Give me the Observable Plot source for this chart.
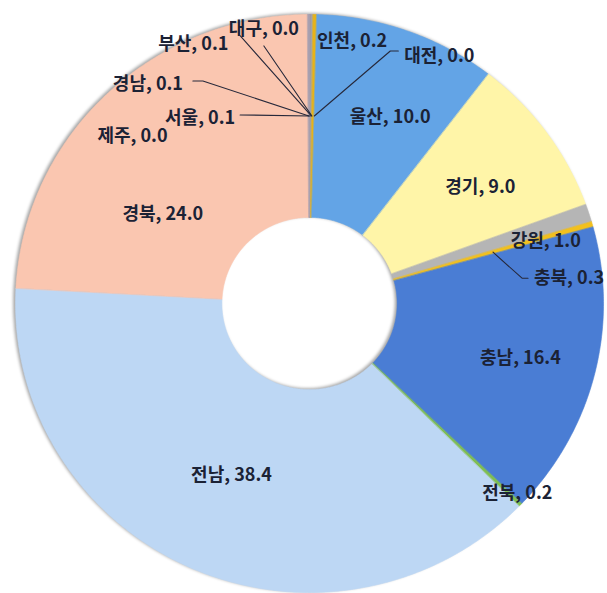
<!DOCTYPE html>
<html>
<head>
<meta charset="utf-8">
<script src="https://cdn.jsdelivr.net/npm/d3@7"></script>
<script src="https://cdn.jsdelivr.net/npm/@observablehq/plot@0.6"></script>
<style>
  html, body { margin: 0; padding: 0; background: #fff; }
</style>
</head>
<body>
<div id="chart"></div>
<script>
// Regional shares (%), clockwise from 12 o'clock
const regions = ["서울", "부산", "대구", "인천", "대전", "울산", "경기", "강원", "충북", "충남", "전북", "전남", "경북", "경남", "제주"];
const shares  = [0.1, 0.1, 0.0, 0.2, 0.0, 10.0, 9.0, 1.0, 0.3, 16.4, 0.2, 38.4, 24.0, 0.1, 0.0];
const sliceColors = ["#9b93a8", "#a5a5a5", "#c9a66b", "#e8b316", "#7a7a7a", "#63a4e6", "#fff5a8", "#b5b5b5", "#f2c01e", "#4a7dd4", "#7fbf50", "#bdd7f4", "#fac6b0", "#a8a0b0", "#f4b183"];

// Label placement: pixel nudges away from each slice's mid-ring point
const labelNudge = {
  "서울": [-110, 2],  "부산": [-118, -72], "대구": [-48, -87], "인천": [39, -75],
  "대전": [125, -60], "울산": [17, -9],    "경기": [17, -5],   "강원": [55, -4],
  "충북": [76, 26],   "충남": [26, 9],     "전북": [71, 59],   "전남": [-1, 0],
  "경북": [-15, 46],  "경남": [-161, -32], "제주": [-177, 20]
};
// Leader lines: pixel points (relative to the mid-ring point) before reaching the slice
const leaderPoints = {
  "서울": [[-70, -1]],
  "경남": [[-116, -35], [-106, -35]],
  "부산": [[-71, -80]],
  "대구": [[-48, -70]],
  "대전": [[84, -65], [76, -65]],
  "충북": [[35, 26], [29, 26]]
};

// Frame of the ring (pixels)
const W = 607, H = 593;
const xRange = [15, 603], yRange = [592, 14];
const PX = (xRange[1] - xRange[0]) / 2, PY = (yRange[0] - yRange[1]) / 2;
const innerR = 0.298;
const midR = (1 + innerR) / 2;

const total = d3.sum(shares);
const toXY = (r, a) => [r * Math.sin(a), r * Math.cos(a)];

// Ring polygons per slice
const ring = [];
const slices = [];
let acc = 0;
regions.forEach((name, i) => {
  const a0 = acc / total * 2 * Math.PI;
  acc += shares[i];
  const a1 = acc / total * 2 * Math.PI;
  const mid = (a0 + a1) / 2;
  slices.push({name, value: shares[i], mid});
  if (shares[i] <= 0) return;
  const n = Math.max(2, Math.ceil((a1 - a0) / (Math.PI / 360)));
  for (let k = 0; k <= n; k++) {
    const a = a0 + (a1 - a0) * k / n;
    const [x, y] = toXY(1, a);
    ring.push({name, x, y});
  }
  for (let k = n; k >= 0; k--) {
    const a = a0 + (a1 - a0) * k / n;
    const [x, y] = toXY(innerR, a);
    ring.push({name, x, y});
  }
});

// Data labels and leaders
const labels = slices.map(s => {
  const [cx, cy] = toXY(midR, s.mid);
  const [dx, dy] = labelNudge[s.name];
  return {name: s.name, text: `${s.name}, ${s.value.toFixed(1)}`, x: cx + dx / PX, y: cy - dy / PY, cx, cy};
});
const leaders = [];
labels.forEach(l => {
  const pts = leaderPoints[l.name];
  if (!pts) return;
  pts.forEach(([dx, dy]) => leaders.push({name: l.name, x: l.cx + dx / PX, y: l.cy - dy / PY}));
  leaders.push({name: l.name, x: l.cx, y: l.cy});
});

const chart = Plot.plot({
  width: W,
  height: H,
  margin: 0,
  style: {background: "#fff"},
  x: {domain: [-1, 1], range: xRange, axis: null},
  y: {domain: [-1, 1], range: yRange, axis: null},
  color: {type: "ordinal", domain: regions, range: sliceColors},
  marks: [
    Plot.line(ring, {x: "x", y: "y", z: "name", fill: "name", stroke: "name", strokeWidth: 0.6, curve: "linear-closed"}),
    Plot.line(leaders, {x: "x", y: "y", z: "name", stroke: "#26283a", strokeWidth: 1.1, curve: "linear"}),
    Plot.text(labels, {
      x: "x", y: "y", text: "text",
      fill: "#1b2235",
      fontSize: 18,
      fontWeight: "bold",
      fontFamily: "'Noto Sans CJK KR', 'Noto Sans', sans-serif",
      textAnchor: "middle"
    })
  ]
});

// Soft shadow on the ring
const ringGroup = chart.querySelector('g[aria-label="line"]');
if (ringGroup) ringGroup.style.filter = "drop-shadow(-1.5px -1px 1.5px rgba(0,0,0,0.35))";

document.getElementById("chart").appendChild(chart);
</script>
</body>
</html>
